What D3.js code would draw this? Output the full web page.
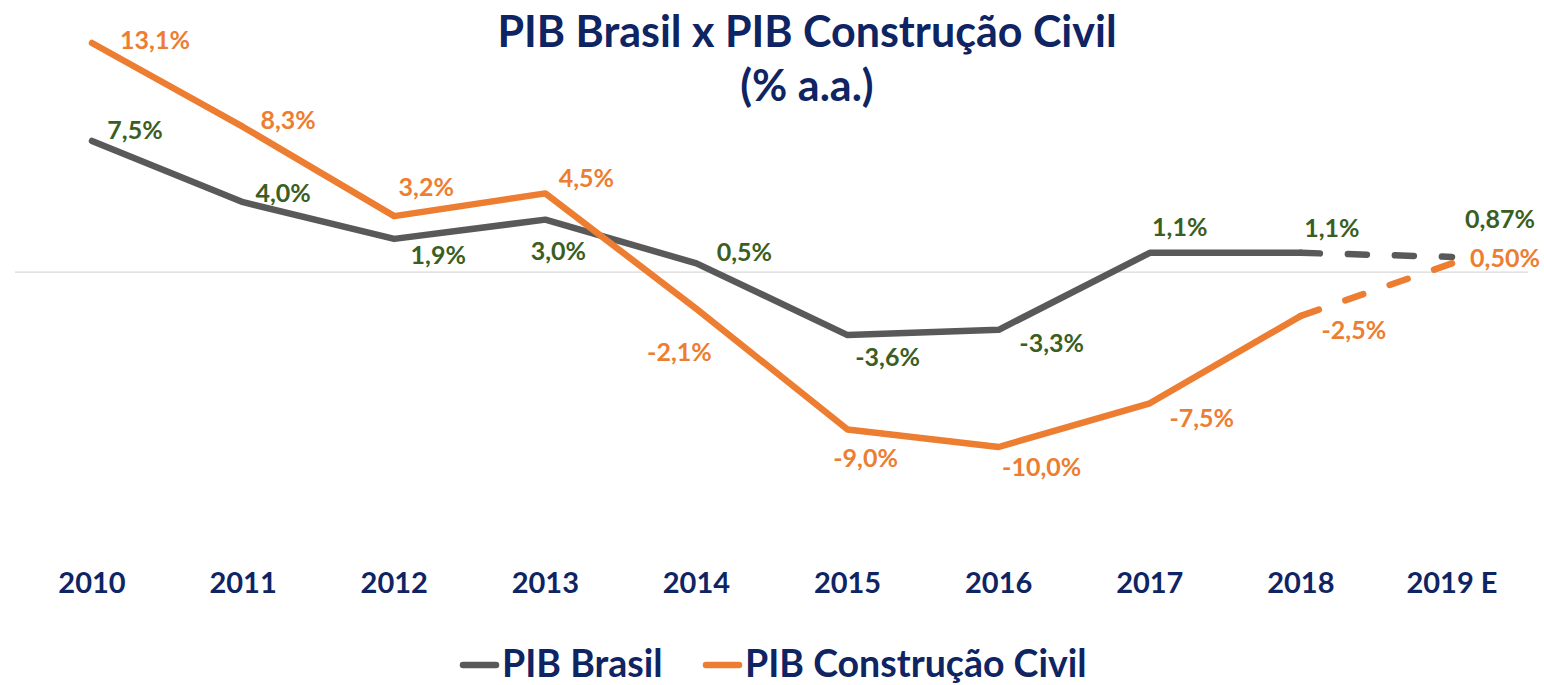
<!DOCTYPE html>
<html>
<head>
<meta charset="utf-8">
<script src="https://cdn.jsdelivr.net/npm/d3@7"></script>
<style>
  html, body { margin: 0; padding: 0; background: #fff; }
  svg { display: block; font-family: Lato, "Open Sans", sans-serif; }
</style>
</head>
<body>
<div id="chart"></div>
<script>
// PIB Brasil x PIB Construção Civil (% a.a.)
const years = ["2010", "2011", "2012", "2013", "2014", "2015", "2016", "2017", "2018", "2019 E"];
const pibBrasil = [7.5, 4.0, 1.9, 3.0, 0.5, -3.6, -3.3, 1.1, 1.1, 0.87];
const pibConstrucao = [13.1, 8.3, 3.2, 4.5, -2.1, -9.0, -10.0, -7.5, -2.5, 0.50];
const brasilLabels = ["7,5%", "4,0%", "1,9%", "3,0%", "0,5%", "-3,6%", "-3,3%", "1,1%", "1,1%", "0,87%"];
const construcaoLabels = ["13,1%", "8,3%", "3,2%", "4,5%", "-2,1%", "-9,0%", "-10,0%", "-7,5%", "-2,5%", "0,50%"];
const seriesNames = ["PIB Brasil", "PIB Construção Civil"];

const width = 1544, height = 685;
const navy = "#0f2463", gray = "#595959", orange = "#ed7d31", green = "#3b5e22";

// label nudges (dx, dy of text centre relative to point)
const brasilOff = [[43, -11], [40, -9], [44, 16], [13, 32], [48, -11], [40, 22], [53, 13], [30, -26], [31, -25], [48, -38]];
const constrOff = [[63, -3], [45, -7], [32, -29], [41, -15], [-17, 43], [18, 29], [43, 20], [52, 15], [53, 14], [53, -5]];

const svg = d3.select("#chart").append("svg")
  .attr("width", width).attr("height", height)
  .attr("viewBox", `0 0 ${width} ${height}`);

const x = d3.scalePoint().domain(years).range([92, 1452]);
const y = d3.scaleLinear().domain([-10, 13.1]).range([447, 43]);

// title
svg.append("text").attr("x", 807).attr("y", 47).attr("text-anchor", "middle")
  .attr("font-size", 43).attr("font-weight", "bold").attr("fill", navy)
  .text("PIB Brasil x PIB Construção Civil");
svg.append("text").attr("x", 807).attr("y", 101).attr("text-anchor", "middle")
  .attr("font-size", 43).attr("font-weight", "bold").attr("fill", navy)
  .text("(% a.a.)");

// zero line
svg.append("line").attr("x1", 15).attr("x2", 1528)
  .attr("y1", y(0)).attr("y2", y(0))
  .attr("stroke", "#d9d9d9").attr("stroke-width", 1.2);

// x axis labels
svg.append("g").selectAll("text").data(years).join("text")
  .attr("x", d => x(d)).attr("y", 593)
  .attr("text-anchor", "middle").attr("font-size", 29).attr("font-weight", "bold")
  .attr("fill", navy).text(d => d);

function drawSeries(values, color) {
  const pts = values.map((v, i) => [x(years[i]), y(v)]);
  const line = d3.line();
  const n = pts.length;
  svg.append("path").attr("d", line(pts.slice(0, n - 1)))
    .attr("fill", "none").attr("stroke", color).attr("stroke-width", 6.5)
    .attr("stroke-linejoin", "round").attr("stroke-linecap", "round");
  svg.append("path").attr("d", line(pts.slice(n - 2)))
    .attr("fill", "none").attr("stroke", color).attr("stroke-width", 6.5)
    .attr("stroke-dasharray", "19 28")
    .attr("stroke-linecap", "round");
  return pts;
}

const bPts = drawSeries(pibBrasil, gray);
const cPts = drawSeries(pibConstrucao, orange);

function drawLabels(pts, labels, off, color) {
  svg.append("g").selectAll("text").data(labels).join("text")
    .attr("x", (d, i) => pts[i][0] + off[i][0])
    .attr("y", (d, i) => pts[i][1] + off[i][1])
    .attr("dy", "0.35em")
    .attr("text-anchor", "middle").attr("font-size", 25).attr("font-weight", "bold")
    .attr("fill", color).text(d => d);
}
drawLabels(bPts, brasilLabels, brasilOff, green);
drawLabels(cPts, construcaoLabels, constrOff, orange);

// legend
const legend = svg.append("g");
const legendItems = [{name: seriesNames[0], color: gray, x: 460}, {name: seriesNames[1], color: orange, x: 703}];
legendItems.forEach(d => {
  legend.append("line").attr("x1", d.x + 3).attr("x2", d.x + 36).attr("y1", 665).attr("y2", 665)
    .attr("stroke", d.color).attr("stroke-width", 6.5).attr("stroke-linecap", "round");
  legend.append("text").attr("x", d.x + 42).attr("y", 677)
    .attr("font-size", 37.5).attr("font-weight", "bold").attr("fill", navy).text(d.name);
});
</script>
</body>
</html>
